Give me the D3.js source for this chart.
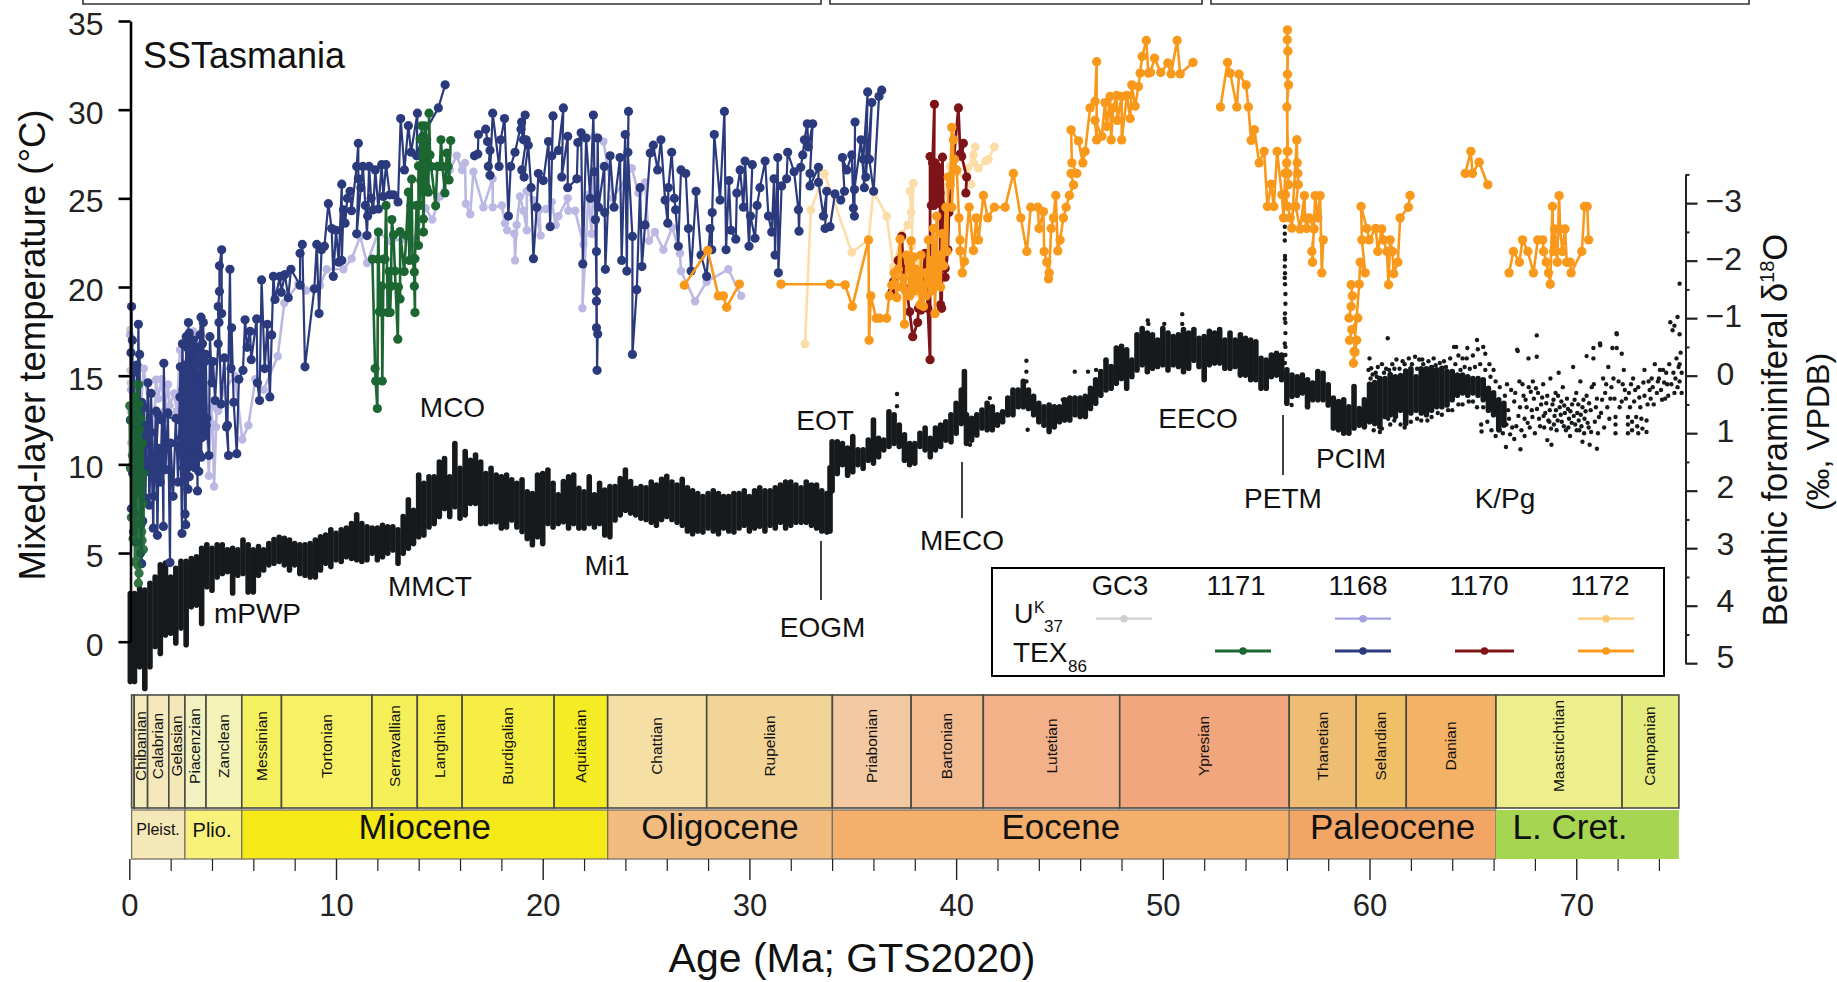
<!DOCTYPE html>
<html>
<head>
<meta charset="utf-8">
<title>SSTasmania</title>
<script src="https://cdn.jsdelivr.net/npm/d3@7"></script>
<style>
  body { margin: 0; background: #fff; }
  text { font-family: "Liberation Sans", Arial, sans-serif; fill: #111; }
</style>
</head>
<body>
<div class="chart"></div>
<script>
// all values: [age Ma, temperature C]
var gc3U37 = [[0.02,17.6],[0.03,15.3],[0.04,14.6],[0.05,13],[0.06,11.2],[0.08,12.4],[0.12,14.2],[0.16,12.9]];

var u37Site1168 = [[0.03,17.3],[0.08,14.2],[0.2,15.6],[0.44,15.55],[0.55,13.2],[0.7,15.4],[1.0,12.8],[1.2,12.2],[1.29,14.77],[1.4,13.7],[1.55,14.8],[1.7,13],[1.87,14.5],[1.95,13.3],[2.17,14],[2.3,13],[2.45,16.45],[2.55,16.5],[2.7,15],[3.1,17.5],[3.3,14],[3.6,15.8],[3.85,9.35],[3.95,13.2],[4.03,12.26],[4.1,8.75],[4.2,12.1],[4.23,13.2],[4.3,13],[4.6,14.2],[5.1,15],[5.47,11.4],[5.76,12.2],[6.1,14.8],[6.5,14.2],[7.18,16.1],[7.5,19.1],[8.18,20.2],[8.55,19.8],[9.23,20.1],[9.55,21],[10.36,21],[10.76,21.6],[11.17,22.85],[11.5,21.35],[12.05,23.1],[12.6,22.6],[13.3,22.7],[13.66,22.4],[14.34,24.45],[14.66,23.8],[15.03,25.1],[15.5,26.6],[15.84,27.4],[16.1,26.6],[16.24,27],[16.28,24.7],[16.49,24.1],[16.65,26.5],[17.13,24.5],[17.58,26.1],[17.58,24.5],[18.02,24.6],[18.18,23.6],[18.28,23.2],[18.63,23],[18.66,21.5],[18.74,23.5],[18.9,25.1],[19.07,24.3],[19.23,23.2],[19.23,25.4],[19.55,24.9],[19.9,22.9],[19.84,24.35],[20.15,24.4],[20.44,24.8],[20.63,23.5],[20.76,24],[21.21,25],[21.24,24.3],[21.57,24.3],[21.97,22.4],[21.92,18.8],[22.21,25.2],[22.37,23],[22.5,28.5],[22.94,28.2],[23.4,25],[24.31,26.7],[24.63,25.3],[24.95,25.9],[25.14,22.6],[25.43,23.1],[25.84,22.1],[26.27,23.35],[26.64,21.9],[26.69,20.9],[27.37,19.2],[27.93,20.3],[28.98,21],[29.6,19.5]];

var u37Site1172 = [[32.69,16.8],[32.97,24.35],[33.63,26.4],[34.95,21.95],[35.76,22.65],[36,25.4],[36.64,24],[36.97,21.15],[37.37,22.95],[37.66,23.5],[37.82,24.2],[37.77,25.4],[37.93,25.85],[37.85,22.3],[37.7,21.5],[38.01,19.65],[38.2,21.5],[38.34,21.7],[38.5,20.6],[38.8,21],[39.2,23.5],[39.71,26.8],[40.03,26.5],[40.72,25.8],[40.56,26.7],[40.84,27.45],[40.92,27.9],[40.84,27],[41.08,26.7],[41.43,27.1],[41.56,27.2],[41.85,27.9]];

var texSite1168 = [[0.05,12.5],[0.08,16.3],[0.11,18.9],[0.16,9.5],[0.22,15.2],[0.28,7.2],[0.33,13.6],[0.38,8.4],[0.44,17.9],[0.5,11.2],[0.56,6.6],[0.6,4.4],[0.66,9.8],[0.72,13.2],[0.78,8.1],[0.85,12.2],[0.9,14.6],[0.97,7.7],[1.05,11.8],[1.16,6.4],[1.2,10.4],[1.3,13],[1.36,6],[1.42,10.9],[1.5,9],[1.58,12.5],[1.65,6.5],[1.67,15.7],[1.75,9.7],[1.87,12.9],[1.97,4.46],[2.0,11.2],[2.12,8.2],[2.25,12.6],[2.36,9],[2.45,13.8],[2.55,6.1],[2.6,14.2],[2.7,7.2],[2.73,6.6],[2.75,17.2],[2.8,11],[2.86,18],[2.9,9.3],[2.95,16.5],[3,10.2],[3.05,16.9],[3.1,11],[3.15,15.8],[3.2,9.8],[3.25,16.2],[3.3,8.5],[3.33,14.5],[3.37,10.6],[3.42,17.3],[3.47,18.3],[3.5,11.5],[3.58,18],[3.62,12],[3.7,16.2],[3.75,12.6],[3.85,10.5],[3.9,17.2],[4.0,14.6],[4.05,15.8],[4.15,13.6],[4.3,16.8],[4.3,18.9],[4.36,19.75],[4.36,21.2],[4.47,22.1],[4.47,18.5],[4.34,18],[4.44,13.4],[4.6,16],[4.7,12.1],[4.8,10.5],[4.75,12.2],[4.87,21],[4.92,15.4],[4.95,17.7],[5.05,13.5],[5.2,10.6],[5.3,14.8],[5.5,15.3],[5.6,18.15],[5.7,16.6],[5.84,17.5],[5.9,15.9],[6.16,18.2],[6.2,14.6],[6.3,13.6],[6.4,20.4],[6.55,15.4],[6.68,17.9],[6.8,13.8],[6.89,17.3],[6.97,20.6],[7.05,19.3],[7.29,20.6],[7.35,19.7],[7.53,20.7],[7.69,19.4],[7.82,21],[8.26,20.1],[8.26,21.9],[8.37,22.4],[8.5,15.5],[8.95,19.9],[9.07,22.4],[9.18,18.5],[9.3,22.1],[9.44,22.3],[9.63,24.7],[9.79,23.3],[9.87,20.6],[10,23.2],[10.13,21.4],[10.28,25.8],[10.28,21.5],[10.36,24.35],[10.44,23.6],[10.55,25],[10.68,25.4],[10.75,24.3],[11,26.8],[11.08,28.1],[11.08,26.1],[11,23],[11.2,25.6],[11.3,26.8],[11.42,24.6],[11.5,22.9],[11.53,24],[11.6,26.8],[11.7,25],[11.8,24.35],[11.9,26.6],[12.05,24.4],[12.21,26.9],[12.29,25.1],[12.42,26.9],[12.6,25.2],[12.78,25.2],[13,24.8],[13.13,29.5],[13.31,26.6],[13.5,29.1],[13.63,27.6],[13.94,29.8],[13.9,27.4],[14.2,28.5],[14.95,30.1],[15.28,31.4]];

var texSite1168b = [[16.7,27.4],[16.86,27.5],[16.89,28.6],[17.24,28.9],[17.33,28.2],[17.45,27.7],[17.37,26.8],[17.45,26.3],[17.58,29.8],[17.89,26.8],[17.97,28.3],[18.15,29.5],[18.34,24],[18.45,26.8],[18.66,27.6],[18.98,29.3],[19.15,29.7],[19.07,28.3],[18.95,28.9],[19.2,28.3],[18.99,26.6],[19.1,26.2],[19.3,28],[19.44,25.6],[19.55,21.6],[19.71,24.5],[19.79,26.4],[20.03,26],[20.28,28.2],[20.36,23.4],[20.5,29.65],[20.44,27.4],[20.76,27.7],[21,30.1],[20.92,26.2],[21.21,28.5],[21.21,25.6],[21.65,26.1],[21.7,28.15],[21.86,28.7],[21.94,21.3],[22.1,28.4],[22.3,25],[22.45,29.7],[22.5,26.5],[22.55,23.8],[22.6,19.75],[22.6,19.2],[22.6,17.7],[22.66,17.35],[22.63,15.3],[22.6,22],[22.66,28.4],[22.7,24.5],[22.98,26.8],[23,24.2],[23.03,21],[23.26,27.4],[23.45,24.5],[23.74,27.3],[23.82,21.5],[23.99,28.6],[24.07,20.9],[24.15,29.9],[24.12,27.6],[24.34,22.85],[24.34,16.2],[24.55,19.85],[24.71,25.6],[24.8,21.15],[24.95,23.5],[25.2,27.55],[25.35,28],[25.56,26.6],[25.72,28.3],[25.92,24.9],[26.05,23.6],[26.08,25.6],[26.24,27.6],[26.37,25],[26.43,24.35],[26.56,22.3],[26.69,26.6],[26.92,26.4],[27.05,23.3],[27.18,20.9],[27.42,25.4],[27.66,21.8],[27.93,20.6],[28.1,23.3],[28.18,22.1],[28.2,24.2],[28.3,28.6],[28.58,24.9],[28.79,29.9],[28.87,22.1],[29.01,26],[29.11,23.2],[29.34,22.7],[29.39,25.3],[29.55,26.6],[29.71,24.5],[29.79,27.1],[29.98,22.3],[30.14,26.9],[30.05,24],[30.27,22.75],[30.37,24.6],[30.51,25.6],[30.76,27.1],[30.92,24],[31.08,23.1],[31.19,26.1],[31.24,21.8],[31.37,27.3],[31.4,20.8],[31.56,25.7],[31.8,26.1],[31.85,27.6],[32.16,26.5],[32.37,24.35],[32.4,23.15],[32.48,26.75],[32.58,27.45],[32.66,28.3],[32.8,29.2],[32.85,27.9],[33.06,29.2],[32.93,26.4],[32.93,25.7],[33.34,26.75],[33.34,25.9],[33.58,24],[33.74,25.4],[33.66,23.3],[33.9,23.4],[34.14,25.25],[34.42,24.9],[34.6,25.4],[34.5,27.3],[34.71,26.6],[34.95,27.45],[35.03,24.45],[35.08,24],[35.11,29.3],[35.08,25.5],[35.4,28.3],[35.56,25.6],[35.51,27.2],[35.72,31],[35.63,26.2],[35.92,30.4],[35.8,27.2],[36.01,25.4],[36.27,30.75],[36.4,31.1]];

// the crowded youngest part of site 1168
var texSite1168c = [[0.1,7.5],[0.15,17],[0.2,6.2],[0.26,12],[0.32,5.6],[0.36,15.6],[0.42,9],[0.5,16.2],[0.55,5],[0.6,13.5],[0.65,6.8],[0.7,11.5],[0.9,9.6],[1.05,14],[1.2,8.2],[1.4,12.8],[2.42,12.5],[2.47,15.5],[2.52,11.5],[2.57,16.8],[2.62,9.8],[2.68,15.6],[2.74,10.4],[2.8,16.6],[2.84,8.6],[2.9,17.4],[2.96,9.9],[3,15.2],[3.06,12],[3.1,17],[3.16,10.6],[3.2,15.6],[3.26,11.8],[3.3,16.6],[3.36,9.6],[3.42,15],[3.48,10.4],[3.54,16.8],[3.6,11.6],[3.66,15.8],[3.72,12.2]];

var texSite1171 = [[0.02,13.3],[0.05,9.8],[0.08,12.5],[0.1,7],[0.15,10.5],[0.18,5.8],[0.22,11.8],[0.25,8.2],[0.25,13.8],[0.28,4.5],[0.32,12.9],[0.3,13.6],[0.33,6.8],[0.36,6],[0.38,14.5],[0.4,13],[0.42,7.5],[0.44,4.8],[0.45,14.5],[0.45,11],[0.48,13.4],[0.5,5.5],[0.48,9.6],[0.44,3.3],[0.47,3.86],[0.42,4.3],[0.5,12],[0.52,7],[0.56,12.6],[0.55,5.2],[0.6,9],[0.6,6.2],[0.64,11.2],[0.62,5.7],[0.68,5.2],[0.7,9.5],[0.66,7.8]];

var texSite1171b = [[11.76,21.57],[11.89,15.4],[11.92,14.7],[12,13.15],[12.03,21.57],[12.05,23.1],[12.1,18.6],[12.21,20.05],[12.22,18.56],[12.24,14.7],[12.3,21.57],[12.37,21.57],[12.42,24.6],[12.5,18.56],[12.57,20.87],[12.62,18.56],[12.66,20.05],[12.7,23.8],[12.78,22.94],[12.85,20.9],[12.99,17.06],[13.02,20],[13.1,19.33],[13.1,23.13],[13.3,20.87],[13.4,22.9],[13.5,25.35],[13.55,21.5],[13.62,24.6],[13.66,26.08],[13.7,21.57],[13.79,20.84],[13.79,20.05],[13.82,18.56],[13.82,21.6],[13.9,24.6],[13.99,22.34],[13.99,26.83],[14.07,24.6],[14.07,28.34],[14.1,26],[14.15,29.09],[14.2,25.35],[14.23,23.84],[14.23,23.1],[14.3,29.09],[14.39,28.3],[14.39,25.6],[14.47,25.35],[14.5,29.8],[14.55,27.45],[14.6,26.8],[14.82,24.58],[14.9,26.8],[15.03,26.8],[15.08,28.3],[15.15,26.8],[15.27,25.3],[15.36,27.55],[15.42,26.8],[15.47,26.04],[15.55,28.26]];

var texSite1170 = [[36.89,19.7],[36.97,20.3],[37.2,21.5],[37.37,22.85],[37.45,21],[37.61,19.84],[37.75,18.6],[37.9,17.2],[38.14,18],[38.18,18.8],[38.3,18.7],[38.5,21.9],[38.63,18.8],[38.74,15.9],[38.74,27.36],[38.8,24.6],[38.86,27],[38.95,30.3],[38.92,24.6],[38.98,27],[39.03,24.8],[39.09,26.8],[39.14,24.9],[39.2,26.4],[39.25,24.7],[39.22,25.3],[39.25,19],[39.3,18.8],[39.34,27.32],[39.4,22],[39.47,21.06],[39.47,20.55],[39.6,22.1],[39.65,24.2],[40.11,30.1],[40.2,27.5],[40.35,28.1],[40.27,27.36],[40.51,26.2],[40.47,25.3]];

var texSite1172a = [[26.85,20.1],[27.98,22.06],[28.5,19.5],[28.74,19.5],[28.9,18.86],[29.51,20.16]];
var texSite1172b = [[31.53,20.16],[33.9,20.16],[34.63,20.12],[34.98,18.9],[35.76,22.65],[35.79,17],[35.87,19.5],[36.13,18.24],[36.3,18.24],[36.64,18.24],[36.77,19.5],[36.89,20.1],[37,20.8],[37.13,19.4],[37.2,21],[37.29,22.7],[37.35,20],[37.45,20.5],[37.5,17.9],[37.55,19.8],[37.6,21.8],[37.69,21.5],[37.75,19.5],[37.82,22.6],[37.88,20.2],[37.95,21.7],[38,19.8],[38.05,21],[38.12,20],[38.18,20.6],[38.25,19],[38.3,21.8],[38.37,19.6],[38.42,18.9],[38.5,20.8],[38.55,19.5],[38.66,22.65],[38.72,20.2],[38.8,21.5],[38.85,19.8],[38.9,23.3],[38.98,18.5],[39.06,24],[39.1,20.3],[39.18,21.8],[39.25,20],[39.32,23],[39.4,21.2],[39.5,24.5],[39.56,22],[39.62,26.2],[39.71,25.76],[39.79,29],[39.87,28.3],[39.79,24.5],[39.92,27.2],[40.03,26.6],[40.14,23.9],[40.19,22.65],[40.19,22.04],[40.3,20.8],[40.4,21.44],[40.63,24.5],[40.84,22.06],[40.97,23.9],[41.08,22.65],[41.32,25.16],[41.53,23.9],[41.85,24.5],[42.37,24.5],[42.77,26.4],[43.13,23.9],[43.42,22],[43.61,24.5],[43.95,24.5],[44.01,23.3],[44.22,24.25],[44.26,22],[44.39,21.4],[44.47,20.46],[44.5,20.8],[44.6,23.3],[44.71,23.9],[44.82,25.16],[44.92,22.04],[45.03,22.65],[45.19,23.9],[45.32,24.5],[45.48,25.16],[45.68,25.76],[45.56,26.4],[45.84,26.4],[45.6,27],[45.56,28.86],[45.92,28.24],[46.13,27],[46.24,27.64],[46.48,30.1],[46.72,30.46],[46.8,32.7],[46.8,28.3],[46.72,29.4],[47.05,28.5],[47.2,30.4],[47.29,29.05],[47.45,30.75],[47.5,28.3],[47.6,30.1],[47.77,30.8],[47.8,29.4],[48.01,30.74],[48.01,28.3],[48.26,30.8],[48.42,29.5],[48.5,31.4],[48.66,30.2],[48.82,31.3],[48.9,32.06],[49,33],[49.2,33.9],[49.3,32.06],[49.4,32.1],[49.6,32.9],[49.9,32.1],[50.24,32.63],[50.4,32.02],[50.69,33.9],[50.84,32.02],[51.46,32.66]];
var texSite1172c = [[52.79,30.15],[53.13,32.66],[53.26,32.06],[53.58,30.15],[53.69,32],[54.03,31.4],[54.14,30.15],[54.27,28.27],[54.43,28.87],[54.66,27],[54.9,27.65],[55.06,24.54],[55.24,25.8],[55.37,24.54],[55.53,27.65],[55.76,25.2],[55.84,23.9],[55.92,26.42],[56.05,27.65],[56,30.15],[56.08,31.4],[56.03,32],[56.05,33.3],[56.02,33.94],[56.03,34.5],[56.02,27.65],[55.99,27],[56.05,26.4],[56.08,25.77],[55.93,25.2],[56.05,24.54],[56.16,23.9],[56.24,23.32],[56.48,28.3],[56.5,27],[56.53,26.4],[56.55,25.77],[56.43,24.54],[56.64,23.27],[56.85,25.15],[56.88,23.9],[56.96,23.3],[57.08,23.9],[57.32,23.27],[57.21,22],[57.24,21.4],[57.37,25.15],[57.5,23.9],[57.61,25.15],[57.69,20.8],[57.76,22.66]];
var texSite1172d = [[59.11,20.13],[59.17,19.5],[59.11,18.9],[59.01,18.25],[59.43,18.25],[59.14,17.6],[59.03,17],[59.38,17],[59.3,16.33],[59.22,15.7],[59.25,16.36],[59.5,20.16],[59.55,21.4],[59.79,20.8],[59.63,22.66],[59.59,24.54],[59.87,23.3],[59.98,22.66],[60.3,23.3],[60.4,22],[60.59,23.27],[60.67,22.66],[60.84,22],[60.92,20.13],[61,22.66],[61.11,22],[61.17,20.75],[61.37,21.4],[61.48,23.9],[61.88,24.5],[61.96,25.16]];
var texSite1172e = [[64.63,26.4],[64.9,27.65],[64.98,26.4],[65.3,27.04],[65.72,25.77]];
var texSite1172f = [[66.75,20.8],[66.96,22],[67.25,21.4],[67.4,22.66],[67.66,22],[67.93,20.8],[68.14,22.66],[68.38,22.66],[68.42,22],[68.55,21.4],[68.66,20.8],[68.74,20.16],[68.85,24.54],[68.9,22],[68.95,23.27],[69.08,21.4],[69.17,25.15],[69.22,23.27],[69.33,22],[69.46,23.27],[69.54,21.4],[69.7,21.4],[69.75,20.8],[70.27,22],[70.4,24.54],[70.53,24.54],[70.6,22.66]];

// benthic d18O, the solid part of the cloud: [age Ma, upper edge, lower edge]
var benthicBand = [[0.05,3.79,5.32],[0.25,3.79,5.32],[0.5,3.7,5.06],[0.75,3.73,5.44],[1,3.61,5.06],[1.25,3.5,4.71],[1.5,3.29,4.83],[1.75,3.26,4.51],[2,3.5,4.48],[2.25,3.35,4.65],[2.5,3.23,4.39],[2.75,3.23,4.68],[3,3.18,4.02],[3.25,3.15,3.99],[3.5,3,4.31],[3.75,2.94,3.67],[4,3,3.73],[4.25,2.94,3.5],[4.5,2.94,3.44],[4.75,3.03,3.41],[5,3,3.78],[5.25,3.03,3.47],[5.5,2.86,3.44],[5.75,2.94,3.76],[6,3.03,3.76],[6.25,2.97,3.47],[6.5,3.03,3.38],[6.75,2.92,3.29],[7,2.85,3.26],[7.25,2.81,3.23],[7.5,2.83,3.29],[7.75,2.86,3.38],[8,2.92,3.29],[8.25,2.94,3.44],[8.5,2.94,3.47],[8.75,2.92,3.5],[9,2.86,3.5],[9.25,2.8,3.38],[9.5,2.77,3.26],[9.75,2.68,3.32],[10,2.74,3.2],[10.25,2.68,3.23],[10.5,2.65,3.15],[10.75,2.57,3.18],[11,2.42,3.2],[11.25,2.57,3.23],[11.5,2.63,3.2],[11.75,2.65,3.09],[12,2.65,3.2],[12.25,2.6,3.15],[12.5,2.63,3.09],[12.75,2.63,3.03],[13,2.68,3.26],[13.25,2.45,3.09],[13.5,2.16,3],[13.75,2.34,2.92],[14,1.73,2.8],[14.25,1.87,2.77],[14.5,1.76,2.63],[14.75,1.76,2.57],[15,1.5,2.45],[15.25,1.44,2.31],[15.5,1.76,2.45],[15.75,1.18,2.28],[16,1.61,2.48],[16.25,1.32,2.42],[16.5,1.47,2.22],[16.75,1.38,2.22],[17,1.5,2.57],[17.25,1.7,2.57],[17.5,1.61,2.54],[17.75,1.73,2.54],[18,1.76,2.65],[18.25,1.73,2.63],[18.5,1.81,2.51],[18.75,1.87,2.63],[19,1.81,2.71],[19.25,2.02,2.83],[19.5,2.05,2.94],[19.75,1.73,2.8],[20,1.7,2.92],[20.25,1.64,2.57],[20.5,1.87,2.63],[20.75,2.07,2.57],[21,1.84,2.54],[21.25,1.76,2.65],[21.5,1.73,2.57],[21.75,1.96,2.65],[22,2.02,2.65],[22.25,1.76,2.57],[22.5,2.07,2.63],[22.75,1.87,2.57],[23,1.99,2.77],[23.25,1.93,2.8],[23.5,1.93,2.51],[23.75,1.79,2.42],[24,1.64,2.34],[24.25,1.84,2.39],[24.5,1.96,2.42],[24.75,1.93,2.48],[25,1.95,2.5],[25.25,1.85,2.55],[25.5,1.9,2.6],[25.75,1.8,2.5],[26,1.75,2.45],[26.25,1.85,2.5],[26.5,1.9,2.55],[26.75,1.8,2.6],[27,1.95,2.7],[27.25,2,2.75],[27.5,2.05,2.7],[27.75,2.1,2.72],[28,2.05,2.65],[28.25,2,2.7],[28.5,2.05,2.75],[28.75,2.1,2.65],[29,2.1,2.7],[29.25,2.05,2.72],[29.5,2.05,2.65],[29.75,2,2.6],[30,2.1,2.7],[30.25,2,2.65],[30.5,1.95,2.62],[30.75,2,2.7],[31,2,2.6],[31.25,1.95,2.65],[31.5,1.9,2.55],[31.75,1.85,2.65],[32,1.85,2.6],[32.25,1.9,2.55],[32.5,1.95,2.55],[32.75,1.85,2.55],[33,1.9,2.6],[33.25,1.9,2.65],[33.5,2,2.7],[33.75,2.05,2.72],[33.9,1.6,2.7],[34,1.15,2],[34.25,1.15,1.7],[34.5,1.18,1.55],[34.75,1.26,1.73],[35,1.06,1.67],[35.25,1.29,1.55],[35.5,1.29,1.61],[35.75,1.12,1.47],[36,0.77,1.52],[36.25,1.09,1.41],[36.5,1.12,1.29],[36.75,0.63,1.23],[37,0.68,1.18],[37.25,0.86,1.23],[37.5,1.03,1.47],[37.75,1.18,1.55],[38,1.18,1.52],[38.25,1,1.23],[38.5,0.91,1.29],[38.75,1.09,1.41],[39,0.91,1.29],[39.25,0.86,1.23],[39.5,0.8,1.12],[39.75,0.68,1.15],[40,0.48,1],[40.25,0.25,0.83],[40.4,-0.07,0.68],[40.5,0.68,1.18],[40.75,0.74,1.12],[41,0.68,1.03],[41.25,0.6,0.91],[41.5,0.48,0.94],[41.75,0.54,0.94],[42,0.68,0.86],[42.25,0.63,0.8],[42.5,0.39,0.68],[42.75,0.25,0.68],[43,0.25,0.54],[43.25,0.1,0.54],[43.5,0.25,0.57],[43.75,0.36,0.68],[44,0.48,0.8],[44.25,0.54,0.86],[44.5,0.51,0.97],[44.75,0.54,0.89],[45,0.54,0.8],[45.25,0.42,0.77],[45.5,0.39,0.77],[45.75,0.39,0.68],[46,0.39,0.71],[46.25,0.36,0.71],[46.5,0.22,0.57],[46.75,0.07,0.48],[47,-0.07,0.34],[47.25,-0.27,0.25],[47.5,-0.16,0.22],[47.75,-0.48,0.13],[48,-0.51,0.05],[48.25,-0.45,0.22],[48.5,-0.27,0.02],[48.75,-0.71,-0.1],[49,-0.82,-0.19],[49.25,-0.74,-0.07],[49.5,-0.71,-0.13],[49.75,-0.62,-0.16],[50,-0.82,-0.19],[50.25,-0.74,-0.1],[50.5,-0.68,-0.19],[50.75,-0.71,-0.16],[51,-0.8,-0.07],[51.25,-0.74,-0.13],[51.5,-0.8,-0.27],[51.75,-0.65,-0.16],[52,-0.68,0.07],[52.25,-0.77,-0.19],[52.5,-0.74,-0.22],[52.75,-0.8,-0.22],[53,-0.62,-0.13],[53.25,-0.74,-0.13],[53.5,-0.62,-0.16],[53.75,-0.71,-0.01],[54,-0.65,-0.01],[54.25,-0.62,0.07],[54.5,-0.59,0.07],[54.75,-0.3,0.22],[55,-0.27,0.22],[55.25,-0.36,0.02],[55.5,-0.39,-0.01],[55.75,-0.36,0.07],[56,-0.1,0.48],[56.25,-0.01,0.36],[56.5,0.02,0.34],[56.75,-0.01,0.3],[57,0.07,0.54],[57.25,0.13,0.42],[57.5,-0.07,0.42],[57.75,-0.04,0.42],[58,0.16,0.51],[58.25,0.39,0.91],[58.5,0.45,0.94],[58.75,0.42,1],[59,0.54,1],[59.25,0.19,0.91],[59.5,0.57,0.86],[59.75,0.42,0.89],[60,0.15,0.8],[60.25,0.12,0.83],[60.5,0.05,0.89],[60.75,0.05,0.71],[61,-0.02,0.68],[61.25,0.02,0.71],[61.5,0,0.6],[61.75,-0.08,0.83],[62,-0.12,0.65],[62.25,0.02,0.6],[62.5,-0.12,0.65],[62.75,-0.12,0.68],[63,-0.14,0.6],[63.25,-0.1,0.54],[63.5,-0.13,0.54],[63.75,-0.07,0.51],[64,-0.07,0.42],[64.25,-0.01,0.34],[64.5,-0.01,0.3],[64.75,0.02,0.34],[65,0.05,0.3],[65.25,0.05,0.34],[65.5,0.07,0.42],[65.75,0.22,0.6],[66,0.3,0.68],[66.25,0.42,0.94],[66.5,0.48,0.86]];

// benthic d18O, the loose dots: [age Ma, d18O]
var benthicDots = [[55.9,-2.59],[55.9,-2.47],[55.9,-2.35],[55.91,-2.08],[55.91,-2.02],[55.9,-1.9],[55.91,-1.78],[55.9,-1.7],[55.91,-1.59],[55.93,-1.42],[55.93,-1.25],[55.91,-1.08],[55.9,-0.99],[55.93,-0.92],[55.93,-0.74],[55.9,-0.56],[55.93,-0.5],[55.93,-0.36],[55.9,-0.22],[37.14,0.32],[37.14,0.53],[43.4,-0.26],[43.4,-0.07],[43.4,0.1],[49.27,-0.96],[49.3,-0.9],[50.94,-1.07],[50.94,-0.9],[50.07,-0.9],[41.63,0.39],[45.74,-0.07],[46.38,-0.07],[46.77,-0.1],[45.16,0.42],[43.46,0.94],[40.67,1.2],[56.23,0.51],
[59.95,-0.1],[60,-0.3],[60.08,-0.13],[60.05,0.05],[60.3,-0.05],[60.4,-0.15],[60.6,-0.2],[60.8,-0.12],[60.88,-0.65],[61.1,-0.2],[61.3,-0.28],[61.6,-0.25],[61.9,-0.3],[62.2,-0.33],[62.4,-0.28],[62.6,-0.2],[63.1,-0.3],[63.4,-0.22],[63.6,-0.25],[63.9,-0.3],[64.09,-0.5],[64.19,-0.5],[64.3,-0.35],[64.5,-0.3],[64.73,-0.48],[64.7,-0.3],[65,-0.35],[65.2,-0.62],[65.24,-0.46],[65.5,-0.5],[65.6,-0.38],[65.8,-0.2],[66,-0.1],[60.2,0.95],[60.5,0.98],[61,0.85],[61.5,0.85],[62,0.8],[62.5,0.78],[63,0.72],[63.5,0.68],[64,0.6],[64.5,0.5],[65,0.45],[65.5,0.55],
[60.15,-0.02],[60.35,0.02],[60.7,-0.05],[60.95,-0.1],[61.2,-0.12],[61.45,-0.12],[61.7,-0.2],[62.05,-0.2],[62.3,-0.12],[62.55,-0.28],[62.85,-0.25],[63.2,-0.18],[63.7,-0.15],[64.15,-0.2],[64.4,-0.1],[64.6,-0.15],[64.85,-0.12],[65.1,-0.15],[65.35,-0.2],[65.6,-0.1],[65.85,0.02],[66.1,0.1],[66.3,0.2],[60.6,0.92],[60.9,0.75],[61.2,0.78],[61.7,0.9],[62.3,0.75],[62.8,0.78],[63.3,0.65],[63.8,0.6],[64.3,0.5],[64.8,0.45],[65.2,0.55],
[65.4,0.85],[65.42,0.97],[65.7,0.8],[65.9,0.95],[66.1,1.05],[66.25,0.7],[66.3,0.95],[66.45,1],[66.6,1.24],[66.62,0.85],[66.7,0.6],[66.85,0.25],[66.9,0.9],[67,0.45],[67,1.1],[67.14,-0.45],[67.17,-0.43],[67.2,0.7],[67.25,0.1],[67.3,1.28],[67.35,0.95],[67.45,0.35],[67.5,0.75],[67.5,1.05],[67.6,0.55],[67.69,-0.3],[67.7,0.2],[67.75,0.9],[67.85,0.6],[67.9,0.1],[67.95,0.4],[68,1],[68.09,-0.7],[68.09,-0.33],[68.15,0.3],[68.2,0.75],[68.3,0.5],[68.4,0.15],[68.45,0.9],[68.5,0.65],[68.6,1.12],[68.6,0.35],[68.7,0.8],[68.75,0.05],[68.8,1.2],[68.85,0.5],[68.95,0.7],[69,0.3],[69.05,0.95],[69.15,-0.05],[69.2,0.55],[69.3,0.8],[69.35,0.2],[69.45,0.65],[69.5,0.95],[69.55,0.4],[69.65,0.75],[69.7,1.05],[69.8,0.5],[69.85,-0.15],[69.95,0.85],[70,0.3],[70.05,0.65],[70.15,0.95],[70.2,0.1],[70.3,0.55],[70.3,1.15],[70.4,0.75],[70.5,-0.34],[70.5,0.35],[70.6,0.9],[70.65,1.2],[70.7,0.6],[70.83,-0.48],[70.83,-0.3],[70.85,0.15],[70.9,0.8],[71,1.27],[71,0.4],[71.05,1],[71.15,-0.56],[71.16,-0.53],[71.2,0.65],[71.3,0.05],[71.35,0.9],[71.4,0.3],[71.5,0.55],[71.55,-0.15],[71.6,0.75],[71.75,-0.48],[71.7,0.2],[71.85,0.4],[71.9,0.72],[71.9,0.85],[71.9,1],[71.95,-0.74],[71.96,-0.72],[71.96,-0.48],[72.05,0.1],[72.2,-0.38],[72.2,0.45],[72.3,-0.1],[72.35,0.25],[72.5,0.72],[72.5,0.85],[72.5,1],[72.55,0.3],[72.7,0.8],[72.7,0.95],[72.75,0.05],[72.8,0.45],[72.9,0.72],[72.95,0.88],[73,0.2],[73,1],[73.1,0.55],[73.15,0.75],[73.2,0.92],[73.3,-0.1],[73.3,0.35],[73.4,0.78],[73.4,0.98],[73.5,0.1],[73.6,0.4],[73.7,0.2],[73.8,-0.2],[73.9,0.3],[74,0.05],[74.1,0.25],[74.2,-0.1],[74.3,0.4],[74.4,0.15],[74.55,-0.93],[74.5,-0.2],[74.6,0.15],[74.66,-0.79],[74.75,-0.87],[74.8,0.05],[74.85,-0.3],[74.9,-1.02],[74.95,-0.15],[75,-0.72],[75,-1.6],[75,0.1],[75.05,-0.4],[75.1,-0.05],[75.1,0.3],
[66.55,0.35],[66.65,0.15],[66.75,0.75],[66.8,1.02],[67.05,0.3],[67.1,0.88],[67.28,0.55],[67.4,0.15],[67.55,0.42],[67.65,0.82],[67.8,0.28],[67.88,0.72],[68.05,0.22],[68.1,0.58],[68.25,0.88],[68.35,0.38],[68.42,0.7],[68.55,0.48],[68.65,0.78],[68.72,0.6],[68.78,0.92],[68.9,0.42],[68.92,0.85],[69.02,0.6],[69.1,0.78],[69.12,0.35],[69.25,0.68],[69.28,0.45],[69.4,0.88],[69.42,0.52],[69.6,0.58],[69.62,0.9],[69.72,0.62],[69.78,0.82],[69.88,0.7],[69.92,0.42],[70.02,0.95],[70.1,0.5],[70.12,0.78],[70.22,0.68],[70.25,0.88],[70.35,0.42],[70.38,1],[70.45,0.62],[70.55,0.82],[70.62,0.48],[70.72,0.98],[70.75,0.2],[70.95,0.55],[71.1,0.72],[71.25,0.42],[71.45,0.15],[71.65,0.4],[71.8,0.05],[72.1,0.55],[72.25,0.15],[72.4,0.4],[72.6,0.55],[72.65,0.15],[72.85,0.25],[73.05,0.38],[73.25,0.12],[73.45,0.5],[73.55,0.25],[73.65,0.05],[73.75,0.5],[73.95,0.1],[74.05,-0.1],[74.15,0.42],[74.25,0.12],[74.35,-0.05],[74.45,0.35],[74.7,-0.05],[74.75,0.3],[74.9,0.2],[75,-0.2]];

// geological time scale
var stageNames = ["", "Chibanian", "Calabrian", "Gelasian", "Piacenzian", "Zanclean", "Messinian", "Tortonian", "Serravallian", "Langhian", "Burdigalian", "Aquitanian", "Chattian", "Rupelian", "Priabonian", "Bartonian", "Lutetian", "Ypresian", "Thanetian", "Selandian", "Danian", "Maastrichtian", "Campanian"];
var stageEdges = [0, 0.126, 0.774, 1.8, 2.58, 3.6, 5.33, 7.25, 11.63, 13.82, 15.99, 20.44, 23.03, 27.82, 33.9, 37.71, 41.2, 47.8, 56, 59.24, 61.66, 66, 72.1, 74.85];
var stageColors = ["#f5ecbe", "#f5ecbe", "#f5e8bb", "#f5e8b8", "#f2f2c0", "#f3f3b8", "#f6f25f", "#f8f065", "#f5f05a", "#f5ee4e", "#f6ee42", "#f5ec25", "#f6dfa5", "#f3d497", "#f2c9a0", "#f2bb90", "#f3b18a", "#f1a67d", "#efbc73", "#f1bf68", "#f4b266", "#eeef8c", "#e5ec7e"];
var epochNames = ["Pleist.", "Plio.", "Miocene", "Oligocene", "Eocene", "Paleocene", "L. Cret."];
var epochEdges = [0, 2.58, 5.33, 23.03, 33.9, 56, 66, 74.85];
var epochColors = ["#f5e8b8", "#f8f17a", "#f5ea17", "#f2bc7e", "#f5af6d", "#f3a565", "#a5d551"];

var tempTicks = [0, 5, 10, 15, 20, 25, 30, 35];
var ageMajor = [0, 10, 20, 30, 40, 50, 60, 70];
var ageMinor = [2, 4, 6, 8, 12, 14, 16, 18, 22, 24, 26, 28, 32, 34, 36, 38, 42, 44, 46, 48, 52, 54, 56, 58, 62, 64, 66, 68, 72, 74];
var deltaMajor = [-3, -2, -1, 0, 1, 2, 3, 4, 5];
var deltaMinor = [-3.5, -2.5, -1.5, -0.5, 0.5, 1.5, 2.5, 3.5, 4.5];

var legendSites = ["GC3", "1171", "1168", "1170", "1172"];
var eventNames = ["MCO", "EOT", "EECO", "PCIM", "PETM", "K/Pg", "MECO", "MMCT", "Mi1", "mPWP", "EOGM"];

var width = 1837, height = 982;
var NAVY = "#2a3a7c", GREEN = "#1c6632", MAROON = "#7f1418", ORANGE = "#f9991c", INK = "#171a1c";

var svg = d3.select(".chart").append("svg")
    .attr("width", width)
    .attr("height", height)
    .style("display", "block");

var xScale = d3.scaleLinear().domain([0, 75]).range([129.3, 1679.6]);
var barScale = d3.scaleLinear().domain([0, 75]).range([131.6, 1682]); // the time bar sits a touch to the right
var yScale = d3.scaleLinear().domain([0, 35]).range([641.7, 21]);
var dScale = d3.scaleLinear().domain([-3.5, 5]).range([174.4, 663.2]);

// clipped boxes along the top edge
var topBoxes = [[83, 821], [830, 1202], [1211, 1749]];
svg.selectAll("path.topbox")
    .data(topBoxes)
    .enter().append("path")
    .attr("class", "topbox")
    .attr("d", function(d) { return "M" + d[0] + ",-4V4H" + d[1] + "V-4"; })
    .attr("fill", "none")
    .attr("stroke", "#333")
    .attr("stroke-width", 1.6);

function drawSeries(data, color, lineWidth, radius, opacity) {
  var g = svg.append("g").attr("opacity", opacity || 1);
  g.append("path")
      .attr("d", d3.line()
        .x(function(d) { return xScale(d[0]); })
        .y(function(d) { return yScale(d[1]); })(data))
      .attr("fill", "none")
      .attr("stroke", color)
      .attr("stroke-width", lineWidth)
      .attr("stroke-linejoin", "round");
  g.selectAll("circle")
      .data(data)
      .enter().append("circle")
      .attr("cx", function(d) { return xScale(d[0]); })
      .attr("cy", function(d) { return yScale(d[1]); })
      .attr("r", radius)
      .attr("fill", color);
}

drawSeries(gc3U37, "#bdbdbd", 1.8, 3.6, 0.8);
drawSeries(u37Site1168, "#8f8cd2", 2.6, 4.2, 0.6);
drawSeries(u37Site1172, "#fbc870", 2.6, 4.4, 0.6);

// benthic cloud: one round-capped stroke per row, plus loose dots
svg.append("g").selectAll("line")
    .data(benthicBand)
    .enter().append("line")
    .attr("x1", function(d) { return xScale(d[0]); })
    .attr("x2", function(d) { return xScale(d[0]); })
    .attr("y1", function(d) { return dScale(d[1]); })
    .attr("y2", function(d) { return dScale(d[2]); })
    .attr("stroke", INK)
    .attr("stroke-width", 5.6)
    .attr("stroke-linecap", "round");
svg.append("g").attr("fill", INK).selectAll("circle")
    .data(benthicDots)
    .enter().append("circle")
    .attr("cx", function(d) { return xScale(d[0]); })
    .attr("cy", function(d) { return dScale(d[1]); })
    .attr("r", 2.2);

drawSeries(texSite1168c, NAVY, 2.2, 4.6);
drawSeries(texSite1168, NAVY, 2.2, 4.6);
drawSeries(texSite1168b, NAVY, 2.2, 4.6);
drawSeries(texSite1170, MAROON, 2.8, 4.6);
drawSeries(texSite1172a, ORANGE, 2.6, 4.7);
drawSeries(texSite1172b, ORANGE, 2.6, 4.7);
drawSeries(texSite1172c, ORANGE, 2.6, 4.7);
drawSeries(texSite1172d, ORANGE, 2.6, 4.7);
drawSeries(texSite1172e, ORANGE, 2.6, 4.7);
drawSeries(texSite1172f, ORANGE, 2.6, 4.7);
drawSeries(texSite1171, GREEN, 3, 4.6, 0.9);
drawSeries(texSite1171b, GREEN, 2.6, 4.6);

// left axis
var leftAxis = svg.append("g")
    .attr("transform", "translate(130.5,0)")
    .call(d3.axisLeft(yScale).tickValues(tempTicks).tickSize(12).tickSizeOuter(0).tickPadding(15));
leftAxis.select(".domain").attr("stroke", "#000").attr("stroke-width", 2.6);
leftAxis.selectAll(".tick line").attr("stroke", "#000").attr("stroke-width", 2.6);
leftAxis.selectAll(".tick text").attr("font-size", 32).attr("dy", "0.42em").style("font-family", "Liberation Sans").style("fill", "#222");

// right axis
var rightAxis = svg.append("g")
    .attr("transform", "translate(1685.5,0)")
    .call(d3.axisRight(dScale).tickValues(deltaMajor).tickSize(12).tickSizeOuter(0)
      .tickFormat(function(d) { return d < 0 ? "\u2212" + (-d) : d; }));
rightAxis.select(".domain").attr("stroke", "#222").attr("stroke-width", 2);
rightAxis.selectAll(".tick line").attr("stroke", "#222").attr("stroke-width", 2.2);
rightAxis.selectAll(".tick text")
    .attr("font-size", 32)
    .attr("dy", "0.27em")
    .attr("x", function(d) { return d < 0 ? 20 : 31; })
    .attr("y", function(d) { return d > 0 ? -d * 0.8 : 0; })
    .style("font-family", "Liberation Sans")
    .style("fill", "#222");
var rightMinor = svg.append("g")
    .attr("transform", "translate(1685.5,0)")
    .call(d3.axisRight(dScale).tickValues(deltaMinor).tickSize(4).tickSizeOuter(0).tickFormat(""));
rightMinor.select(".domain").remove();
rightMinor.selectAll(".tick line").attr("stroke", "#222").attr("stroke-width", 2);

// time scale, stages on top of epochs
var stageTop = 695, stageBottom = 808, epochTop = 810, epochBottom = 859;
var stages = svg.append("g").selectAll("g")
    .data(stageNames)
    .enter().append("g");
stages.append("rect")
    .attr("x", function(d, i) { return barScale(stageEdges[i]); })
    .attr("y", stageTop)
    .attr("width", function(d, i) { return barScale(stageEdges[i + 1]) - barScale(stageEdges[i]); })
    .attr("height", stageBottom - stageTop)
    .attr("fill", function(d, i) { return stageColors[i]; })
    .attr("stroke", "#4a4a45")
    .attr("stroke-width", 1.6);
stages.append("text")
    .attr("transform", function(d, i) {
      return "translate(" + (barScale((stageEdges[i] + stageEdges[i + 1]) / 2) + 5) + ",746) rotate(-90)";
    })
    .attr("text-anchor", "middle")
    .attr("font-size", 15.5)
    .text(function(d) { return d; });

var epochs = svg.append("g").selectAll("g")
    .data(epochNames)
    .enter().append("g");
epochs.append("rect")
    .attr("x", function(d, i) { return barScale(epochEdges[i]); })
    .attr("y", epochTop)
    .attr("width", function(d, i) { return barScale(epochEdges[i + 1]) - barScale(epochEdges[i]); })
    .attr("height", epochBottom - epochTop)
    .attr("fill", function(d, i) { return epochColors[i]; })
    .attr("stroke", function(d, i) { return i == 6 ? "none" : "#7a7468"; })
    .attr("stroke-width", 1.3);
epochs.append("text")
    .attr("x", function(d, i) {
      if (i == 0) return 158;
      if (i == 1) return 212;
      if (i == 6) return 1570;
      return barScale((epochEdges[i] + epochEdges[i + 1]) / 2);
    })
    .attr("y", function(d, i) { return i == 0 ? 835 : i == 1 ? 837 : 839; })
    .attr("text-anchor", "middle")
    .attr("font-size", function(d, i) { return i == 0 ? 16 : i == 1 ? 20 : 35; })
    .text(function(d) { return d; });

// bottom axis
var bottomAxis = svg.append("g")
    .attr("transform", "translate(0," + epochBottom + ")")
    .call(d3.axisBottom(xScale).tickValues(ageMajor).tickSize(21).tickSizeOuter(0).tickPadding(14));
bottomAxis.select(".domain").remove();
bottomAxis.selectAll(".tick line").attr("stroke", "#222").attr("stroke-width", 1.4);
bottomAxis.selectAll(".tick text").attr("font-size", 31).style("font-family", "Liberation Sans").style("fill", "#222");
var bottomMinor = svg.append("g")
    .attr("transform", "translate(0," + epochBottom + ")")
    .call(d3.axisBottom(xScale).tickValues(ageMinor).tickSize(12).tickSizeOuter(0).tickFormat(""));
bottomMinor.select(".domain").remove();
bottomMinor.selectAll(".tick line").attr("stroke", "#222").attr("stroke-width", 1.2);

// titles
svg.append("text").attr("x", 852).attr("y", 972).attr("text-anchor", "middle").attr("font-size", 41).text("Age (Ma; GTS2020)");
svg.append("text").attr("x", 143).attr("y", 68).attr("font-size", 36).text("SSTasmania");
svg.append("text")
    .attr("transform", "translate(45,345) rotate(-90)")
    .attr("text-anchor", "middle")
    .attr("font-size", 36.5)
    .text("Mixed-layer temperature (\u00b0C)");
var rightTitle = svg.append("text")
    .attr("transform", "translate(1787,430) rotate(-90)")
    .attr("text-anchor", "middle")
    .attr("font-size", 34.5);
rightTitle.append("tspan").text("Benthic foraminiferal \u03b4");
rightTitle.append("tspan").attr("font-size", 20).attr("dy", -13).text("18");
rightTitle.append("tspan").attr("dy", 13).text("O");
svg.append("text")
    .attr("transform", "translate(1829,432) rotate(-90)")
    .attr("text-anchor", "middle")
    .attr("font-size", 32)
    .text("(\u2030, VPDB)");

// event labels
var eventX = [452.5, 825, 1198, 1351, 1283, 1505, 962, 430, 607, 257.5, 822.5];
var eventY = [417, 430, 428, 468, 508, 508, 550, 596, 575, 623, 637];
svg.selectAll("text.event")
    .data(eventNames)
    .enter().append("text")
    .attr("class", "event")
    .attr("x", function(d, i) { return eventX[i]; })
    .attr("y", function(d, i) { return eventY[i]; })
    .attr("text-anchor", "middle")
    .attr("font-size", 28)
    .text(function(d) { return d; });
var eventLines = [[821, 541, 600], [962, 462, 518], [1283, 415, 475]];
svg.selectAll("line.event")
    .data(eventLines)
    .enter().append("line")
    .attr("class", "event")
    .attr("x1", function(d) { return d[0]; })
    .attr("x2", function(d) { return d[0]; })
    .attr("y1", function(d) { return d[1]; })
    .attr("y2", function(d) { return d[2]; })
    .attr("stroke", "#111")
    .attr("stroke-width", 1.6);

// legend
var legend = svg.append("g");
legend.append("rect")
    .attr("x", 992).attr("y", 568).attr("width", 672).attr("height", 108)
    .attr("fill", "#fff").attr("stroke", "#000").attr("stroke-width", 2);
var headerX = [1120, 1236, 1358, 1479, 1600];
legend.selectAll("text.site")
    .data(legendSites)
    .enter().append("text")
    .attr("class", "site")
    .attr("x", function(d, i) { return headerX[i]; })
    .attr("y", 595)
    .attr("text-anchor", "middle")
    .attr("font-size", 27.5)
    .text(function(d) { return d; });

// [x0, x1, y, colour, line width]
var swatches = [
  [1096, 1152, 618.7, "#cfcfcf", 2.2],
  [1335, 1391, 618.7, "#a4a2de", 2.2],
  [1578, 1634, 618.7, "#fbcb78", 2.2],
  [1215, 1271, 651, GREEN, 3],
  [1335, 1391, 651, NAVY, 3],
  [1455, 1514, 651, MAROON, 3],
  [1578, 1634, 651, ORANGE, 3]
];
legend.selectAll("line.swatch")
    .data(swatches)
    .enter().append("line")
    .attr("class", "swatch")
    .attr("x1", function(d) { return d[0]; })
    .attr("x2", function(d) { return d[1]; })
    .attr("y1", function(d) { return d[2]; })
    .attr("y2", function(d) { return d[2]; })
    .attr("stroke", function(d) { return d[3]; })
    .attr("stroke-width", function(d) { return d[4]; });
legend.selectAll("circle.swatch")
    .data(swatches)
    .enter().append("circle")
    .attr("class", "swatch")
    .attr("cx", function(d) { return (d[0] + d[1]) / 2; })
    .attr("cy", function(d) { return d[2]; })
    .attr("r", 3.8)
    .attr("fill", function(d) { return d[3]; });

legend.append("text").attr("x", 1014).attr("y", 623).attr("font-size", 27).text("U");
legend.append("text").attr("x", 1034).attr("y", 613).attr("font-size", 16).text("K");
legend.append("text").attr("x", 1044).attr("y", 632).attr("font-size", 17).text("37");
legend.append("text").attr("x", 1013).attr("y", 662).attr("font-size", 28).text("TEX");
legend.append("text").attr("x", 1068).attr("y", 672).attr("font-size", 17).text("86");
</script>
</body>
</html>
